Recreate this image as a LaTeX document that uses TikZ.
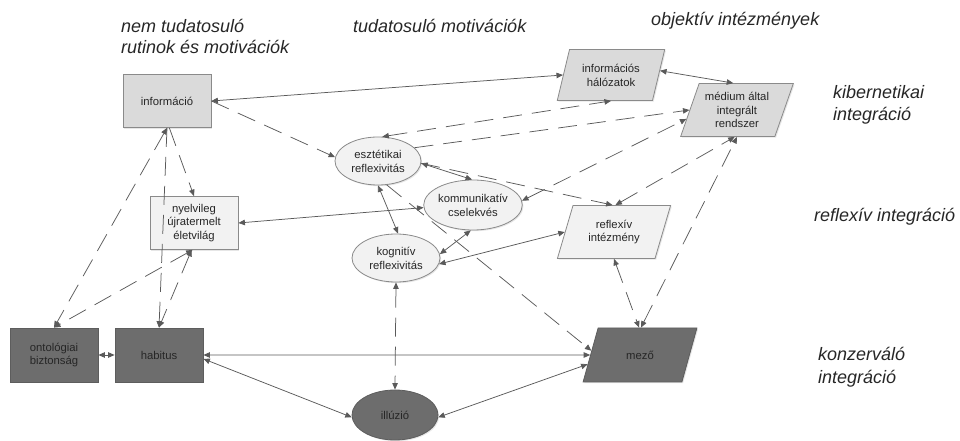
\documentclass[tikz,border=0pt]{standalone}
\usepackage{fontspec}
\setmainfont{Liberation Sans}
\usetikzlibrary{shapes.geometric,arrows.meta,shadows}
\definecolor{lnc}{HTML}{5A5A5A}
\definecolor{lightf}{HTML}{DADADA}
\definecolor{palef}{HTML}{F2F2F2}
\definecolor{darkf}{HTML}{6D6D6D}
\definecolor{bord}{HTML}{8A8A8A}
\definecolor{txt}{HTML}{262626}
\begin{document}
\begin{tikzpicture}[x=1bp,y=-1bp,
  >={Triangle[length=6.5bp,width=5.5bp]},
  box/.style={draw=bord, line width=0.8bp, inner sep=1bp, align=center,
    font=\fontsize{11.3bp}{13.8bp}\selectfont, text=txt,
    drop shadow={shadow xshift=1.2bp, shadow yshift=-1.2bp, opacity=0.2}},
  rbox/.style={box, rectangle, minimum width=88bp, minimum height=53bp},
  ebox/.style={box, ellipse, inner sep=0pt},
  pbox/.style={box, trapezium, trapezium stretches=true},
  lightn/.style={fill=lightf},
  palen/.style={fill=palef},
  darkn/.style={fill=darkf, draw=darkf!85!black},
  con/.style={draw=lnc, line width=0.75bp},
  dsh/.style={con, dash pattern=on 19bp off 10bp},
  hdr/.style={anchor=base west, inner sep=0pt, text=txt,
    font=\fontsize{18bp}{22bp}\selectfont\itshape}
]
\useasboundingbox (0,0) rectangle (960,441);

% header labels
\node[hdr] (h1a) at (121,33) {nem tudatosuló};
\node[hdr] (h1b) at (121,54) {rutinok és motivációk};
\node[hdr] (h2) at (353,33) {tudatosuló motivációk};
\node[hdr] (h3) at (651,26) {objektív intézmények};
\node[hdr] (h4a) at (833,99) {kibernetikai};
\node[hdr] (h4b) at (833,121) {integráció};
\node[hdr] (h5) at (814,222) {reflexív integráció};
\node[hdr] (h6a) at (818,361) {konzerváló};
\node[hdr] (h6b) at (818,384) {integráció};

% nodes
\node[rbox, lightn] (info) at (167,101) {információ};
\node[pbox, lightn, minimum width=108bp, minimum height=51bp,
  trapezium left angle=70, trapezium right angle=110] (hal) at (611,75) {információs\\hálózatok};
\node[pbox, lightn, minimum width=113bp, minimum height=53bp,
  trapezium left angle=67, trapezium right angle=113] (med) at (737,110) {médium által\\integrált\\rendszer};
\node[ebox, palen, minimum width=86bp, minimum height=48bp] (esz) at (378,161) {esztétikai\\reflexivitás};
\node[ebox, palen, minimum width=90bp, minimum height=50bp] (kom) at (473,205) {kommunikatív\\cselekvés};
\node[ebox, palen, minimum width=88bp, minimum height=48bp] (kog) at (396,258) {kognitív\\reflexivitás};
\node[rbox, palen] (nyel) at (194,223) {nyelvileg\\újratermelt\\életvilág};
\node[pbox, palen, minimum width=114bp, minimum height=53bp,
  trapezium left angle=69, trapezium right angle=111] (ref) at (614,232) {reflexív\\intézmény};
\node[pbox, darkn, minimum width=114bp, minimum height=54bp,
  trapezium left angle=63, trapezium right angle=117] (mezo) at (640,355) {mező};
\node[rbox, darkn, minimum height=54bp] (onto) at (54,355) {ontológiai\\biztonság};
\node[rbox, darkn, minimum height=54bp] (hab) at (159,355) {habitus};
\node[ebox, darkn, minimum width=86bp, minimum height=50bp] (ill) at (395,415) {illúzió};

% solid connectors
\draw[con,<->] (info.east) -- (hal.180);
\draw[con,<->] (hal.5) -- (med.98);
\draw[con,<->] (esz.-3) -- (kom.92);
\draw[con,<->] (nyel.east) -- (kom.183);
\draw[con,<->] (esz.-90) -- (kog.85);
\draw[con,<->] (kog.5) -- (kom.-95);
\draw[con,<->] (kog.-8) -- (ref.180);
\draw[con,<->] (hab.east) -- (mezo.180);
\draw[con,<->] (hab.-5) -- (ill.183);
\draw[con,<->] (mezo.190) -- (ill.-3);
\draw[con,<->] (onto.east) -- (hab.west);

% dashed connectors
\draw[dsh,->] (info.east) -- (esz.175);
\draw[dsh,->] (info.-85) -- (nyel.north);
\draw[dsh,<->] (info.south) -- (onto.north);
\draw[dsh,->] (info.south) -- (hab.north);
\draw[dsh,<->] (nyel.-93) -- (onto.north);
\draw[dsh,<->] (nyel.-95) -- (hab.north);
\draw[dsh,<->] (esz.80) -- (hal.-90);
\draw[dsh,->] (esz.20) -- (med.180);
\draw[dsh,<->] (kom.5) -- (med.190);
\draw[dsh,<->] (ref.87) -- (med.-95);
\draw[dsh,<->] (mezo.88) -- (med.-90);
\draw[dsh,<->] (ref.-90) -- (mezo.92);
\draw[dsh,->] (esz.-3) -- (ref.93);
\draw[dsh,->] (esz.-70) -- (mezo.175);
\draw[dsh,<->] (kog.south) -- (ill.north);
\end{tikzpicture}
\end{document}
